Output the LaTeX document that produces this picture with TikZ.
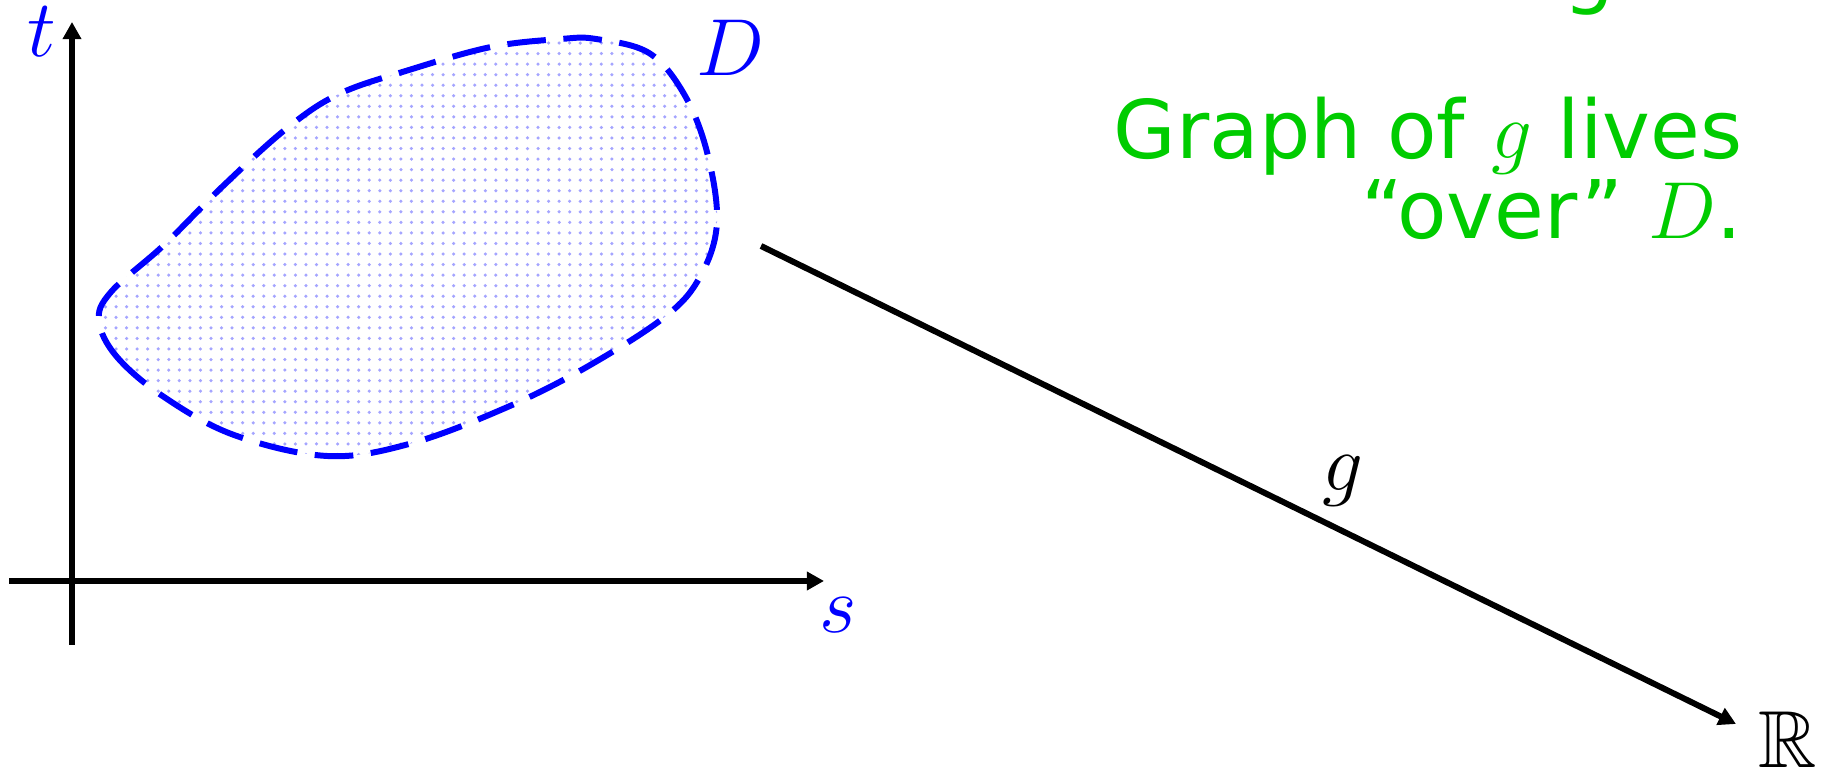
\RequirePackage{fix-cm}
\documentclass[tikz,border=0pt]{standalone}
\usepackage{amssymb}
\usepackage{fontspec}
\newfontfamily\dvsans{DejaVu Sans}
\usetikzlibrary{arrows.meta,patterns.meta}
\definecolor{dgreen}{RGB}{0,204,0}
\definecolor{dotblue}{RGB}{165,165,255}
\begin{document}
\begin{tikzpicture}[x=0.01cm,y=-0.01cm,
  axis/.style={line width=1.7pt,-{Triangle[length=4.9pt,width=5.1pt]}},
  lab/.style={font=\fontsize{23}{28}\selectfont, inner sep=0pt},
  region/.style={draw=blue, line width=1.7pt, dash pattern=on 11pt off 5pt,
    pattern={Dots[radius=0.5pt,distance=3pt]}, pattern color=dotblue},
  greentext/.style={font=\fontsize{23}{22.8}\selectfont\dvsans, text=dgreen, inner sep=0pt}
]
\useasboundingbox (0,0) rectangle (1833,771);

% region D
\path[region] plot[smooth cycle, tension=0.6] coordinates {
 (99,321) (117,357) (164,397) (234,435) (327,456) (409,444) (503,409)
 (585,368) (666,316) (701,275) (717,222) (707,152) (684,94) (649,53)
 (596,39) (561,39) (491,47) (409,70) (339,94) (286,129) (222,187)
 (164,245) (111,292)};

% axes
\coordinate (tbot) at (72,645);
\coordinate (ttop) at (72,22);
\coordinate (sleft) at (9,581);
\coordinate (sright) at (824,581);
\draw[axis] (tbot) -- (ttop);
\draw[axis] (sleft) -- (sright);

\node[lab, text=blue] (t) at (42,32) {$t$};
\node[lab, text=blue] (s) at (838,615) {$s$};
\node[lab, text=blue] (D) at (730,48) {$D$};

% map g
\coordinate (gstart) at (761,246);
\node[lab] (R) at (1788,740) {$\mathbb{R}$};
\coordinate (gend) at (1736,724);
\draw[axis] (gstart) -- (gend);
\node[lab] (g) at (1343,481) {$g$};

% texts
\node[greentext, anchor=base west] (title) at (1406,-1) {Integration};
\node[greentext, align=right, anchor=base east] (txt) at (1743,239) {Graph of $g$ lives\\“over” $D$.};
\end{tikzpicture}
\end{document}
